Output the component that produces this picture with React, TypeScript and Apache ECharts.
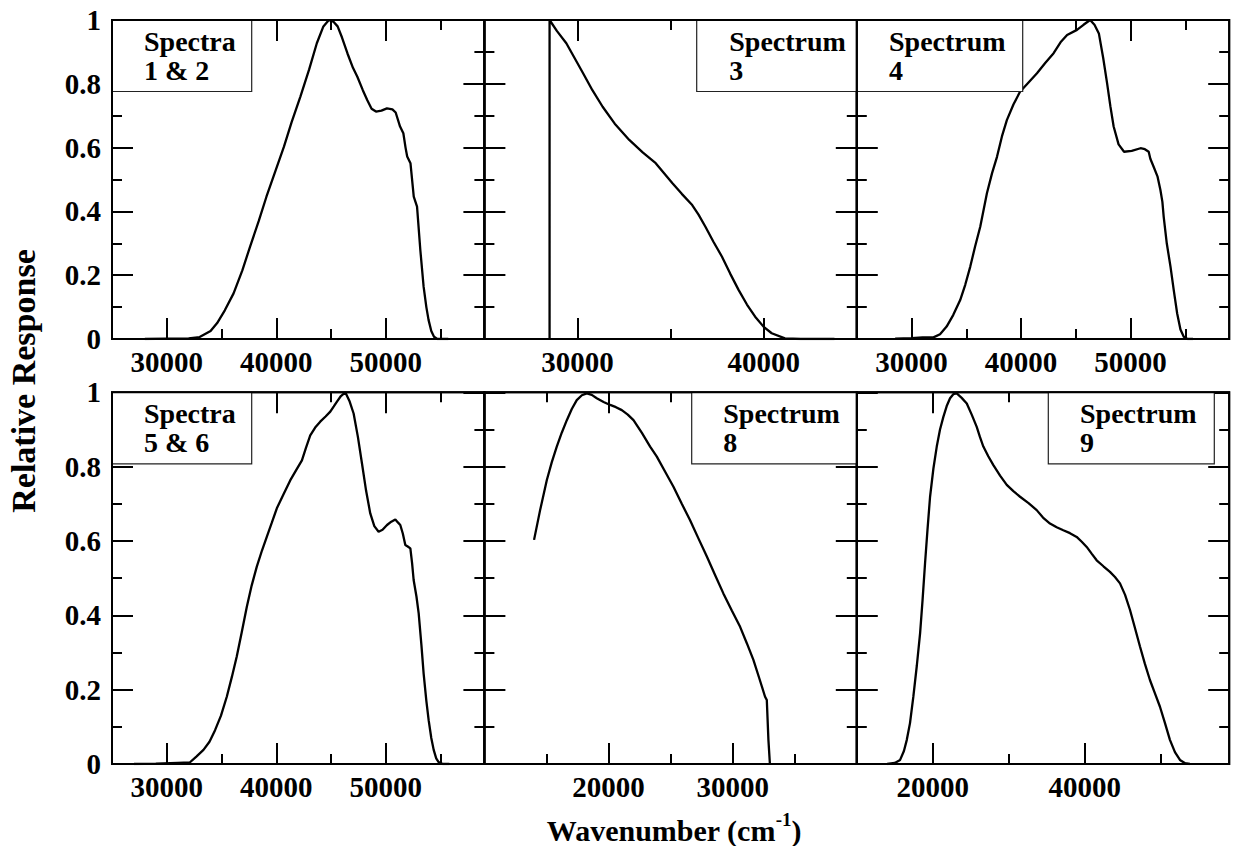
import React, { useEffect, useRef } from 'react';
import * as echarts from 'echarts';

// ---------------- data (wavenumber cm^-1, relative response) ----------------
const spectra12: number[][] = [
  [28000, 0], [30000, 0.001], [32000, 0.002], [33000, 0.006], [34000, 0.025], [34600, 0.05],
  [35300, 0.09], [36100, 0.143], [36900, 0.215], [37600, 0.289], [38400, 0.37], [39100, 0.446],
  [39900, 0.525], [40700, 0.603], [41400, 0.68], [42200, 0.76], [43000, 0.845], [43700, 0.927],
  [44300, 0.98], [44800, 1.0], [45200, 0.995], [45600, 0.98], [46000, 0.945], [46500, 0.895],
  [47000, 0.85], [47400, 0.822], [47900, 0.78], [48300, 0.749], [48700, 0.722], [49100, 0.713],
  [49600, 0.716], [50100, 0.723], [50600, 0.72], [50900, 0.71], [51300, 0.666], [51600, 0.645],
  [51800, 0.6], [51950, 0.572], [52250, 0.551], [52550, 0.446], [52850, 0.415], [53150, 0.279],
  [53450, 0.164], [53700, 0.1], [53900, 0.06], [54150, 0.025], [54400, 0.007], [54700, 0], [55700, 0]
];

const spectrum3: number[][] = [
  [28500, 0], [28500, 1], [28900, 0.965], [29400, 0.927], [29850, 0.88], [30300, 0.833],
  [30800, 0.78], [31350, 0.728], [32000, 0.675], [32780, 0.624], [33500, 0.585], [34200, 0.551],
  [35100, 0.488], [35600, 0.455], [36160, 0.42], [36500, 0.39], [36870, 0.352], [37300, 0.305],
  [37760, 0.258], [38200, 0.205], [38650, 0.154], [39100, 0.108], [39540, 0.07], [40000, 0.038],
  [40430, 0.018], [41140, 0.002], [42000, 0], [43800, 0]
];

const spectrum4: number[][] = [
  [28500, 0.001], [30000, 0.003], [31000, 0.005], [32000, 0.005], [32600, 0.015], [33200, 0.039],
  [33800, 0.075], [34440, 0.122], [34900, 0.17], [35360, 0.227], [35800, 0.29], [36270, 0.352],
  [36880, 0.457], [37350, 0.52], [37800, 0.571], [38250, 0.635], [38700, 0.686], [39300, 0.735],
  [39900, 0.775], [40700, 0.805], [41450, 0.833], [42200, 0.865], [42970, 0.896], [43600, 0.93],
  [44200, 0.953], [45100, 0.969], [45700, 0.985], [46300, 1.0], [46700, 0.985], [47100, 0.958],
  [47500, 0.88], [47850, 0.802], [48150, 0.73], [48450, 0.666], [48900, 0.61], [49400, 0.587],
  [50100, 0.59], [50900, 0.598], [51300, 0.595], [51650, 0.587], [51800, 0.565], [52100, 0.54],
  [52450, 0.51], [52720, 0.467], [52900, 0.43], [53020, 0.383], [53300, 0.3], [53640, 0.227],
  [53950, 0.15], [54250, 0.08], [54550, 0.03], [54850, 0.007], [55200, 0], [55700, 0]
];

const spectra56: number[][] = [
  [27000, 0], [29000, 0.001], [31000, 0.003], [32100, 0.004], [32700, 0.02], [33350, 0.038],
  [33900, 0.06], [34410, 0.091], [34950, 0.13], [35480, 0.181], [35950, 0.235], [36390, 0.289],
  [36850, 0.355], [37310, 0.423], [37750, 0.48], [38220, 0.531], [38700, 0.575], [39140, 0.612],
  [39600, 0.65], [40050, 0.688], [40650, 0.725], [41270, 0.763], [41800, 0.79], [42340, 0.817],
  [42700, 0.85], [43100, 0.884], [43550, 0.905], [44010, 0.921], [44500, 0.935], [44930, 0.948],
  [45250, 0.962], [45540, 0.975], [45900, 0.99], [46300, 1.0], [46700, 0.975], [47060, 0.943],
  [47450, 0.88], [47820, 0.809], [48200, 0.735], [48580, 0.674], [48950, 0.64], [49340, 0.625],
  [49700, 0.63], [50110, 0.643], [50500, 0.652], [50870, 0.658], [51100, 0.65], [51320, 0.643],
  [51550, 0.62], [51780, 0.589], [52000, 0.585], [52240, 0.58], [52400, 0.54], [52540, 0.495],
  [52800, 0.45], [53000, 0.405], [53250, 0.32], [53450, 0.244], [53700, 0.17], [53910, 0.118],
  [54150, 0.07], [54370, 0.038], [54600, 0.015], [54820, 0.005], [55200, 0], [55800, 0]
];

const spectrum8: number[][] = [
  [14000, 0.603], [14500, 0.685], [15030, 0.764], [15430, 0.812], [15830, 0.854], [16240, 0.892],
  [16640, 0.925], [17040, 0.955], [17440, 0.979], [17850, 0.992], [18250, 0.997], [18650, 0.993],
  [19050, 0.984], [19600, 0.974], [20130, 0.966], [20600, 0.96], [21070, 0.952], [21550, 0.94],
  [22010, 0.925], [22700, 0.89], [23350, 0.854], [23890, 0.827], [24550, 0.787], [25230, 0.746],
  [25900, 0.7], [26570, 0.656], [27240, 0.607], [27920, 0.558], [28590, 0.508], [29250, 0.459],
  [29930, 0.413], [30600, 0.369], [31140, 0.325], [31670, 0.28], [32150, 0.23], [32610, 0.181],
  [32750, 0.172], [32880, 0.065], [33000, 0]
];

const spectrum9: number[][] = [
  [14000, 0], [15000, 0.003], [15700, 0.011], [16200, 0.035], [16580, 0.065], [17000, 0.11],
  [17440, 0.181], [17900, 0.265], [18330, 0.352], [18650, 0.44], [18980, 0.54], [19300, 0.63],
  [19640, 0.719], [20080, 0.795], [20520, 0.854], [20950, 0.9], [21390, 0.934], [21830, 0.963],
  [22270, 0.984], [22700, 0.995], [23150, 0.997], [23800, 0.985], [24470, 0.97], [25120, 0.94],
  [25780, 0.907], [26200, 0.88], [26650, 0.854], [27300, 0.828], [27970, 0.804], [28850, 0.776],
  [29730, 0.751], [30600, 0.734], [31480, 0.719], [32600, 0.702], [33670, 0.683], [34500, 0.663],
  [35420, 0.647], [36300, 0.637], [37170, 0.629], [38050, 0.621], [38930, 0.611], [39600, 0.598],
  [40250, 0.584], [40900, 0.566], [41560, 0.548], [42450, 0.532], [43310, 0.517], [43970, 0.503],
  [44630, 0.486], [45300, 0.455], [45940, 0.415], [46600, 0.366], [47260, 0.316], [47900, 0.27],
  [48570, 0.226], [49230, 0.19], [49890, 0.154], [50550, 0.11], [51200, 0.065], [51860, 0.032],
  [52520, 0.011], [53200, 0.002], [53830, 0]
];

const panelLabelLine1 = ['Spectra', 'Spectrum', 'Spectrum', 'Spectra', 'Spectrum', 'Spectrum'];
const panelLabelLine2 = ['1 & 2', '3', '4', '5 & 6', '8', '9'];
const panelData = [spectra12, spectrum3, spectrum4, spectra56, spectrum8, spectrum9];
const xMin = [25000, 25000, 25000, 25000, 10000, 10000];
const xMax = [59000, 45000, 59000, 59000, 40000, 59000];
const xMajorTicks = [
  [30000, 40000, 50000], [30000, 40000], [30000, 40000, 50000],
  [30000, 40000, 50000], [20000, 30000], [20000, 40000]
];
const xMinorTicks = [
  [35000, 45000, 55000], [35000], [35000, 45000, 55000],
  [35000, 45000, 55000], [15000, 25000, 35000], [30000, 50000]
];
const yMin = 0;
const yMax = 1;
const yStep = 0.2;

const xTitle = 'Wavenumber (cm';
const xTitleSup = '-1';
const xTitleEnd = ')';
const yTitle = 'Relative Response';

// ---------------- layout ----------------
const FONT = 'Liberation Serif';
const colLeft = [112, 484.4, 856.8];
const colWidth = 372.4;
const rowTop = [20, 392.3];
const rowHeight = [319, 371.7];
const boxX = [[112, 251.7], [696.7, 856.8], [856.8, 1022.7], [112, 251.7], [691.7, 856.8], [1048.3, 1214.3]];
const textX = [144, 729.3, 889, 144, 723.3, 1080];
const boxH = 71.5;

export default function App() {
  const ref = useRef<HTMLDivElement>(null);

  useEffect(() => {
    if (!ref.current) return;
    const chart = echarts.init(ref.current, null, { renderer: 'svg' });

    const tickLine = { color: '#000', width: 2 };
    const labelStyle = { color: '#000', fontFamily: FONT, fontWeight: 'bold' as const, fontSize: 29 };
    const plain = (v: number) => String(v);

    const grids: any[] = [];
    const xAxes: any[] = [];
    const yAxes: any[] = [];
    const series: any[] = [];
    const graphics: any[] = [];

    panelData.forEach((data, i) => {
      const col = i % 3;
      const row = Math.floor(i / 3);
      grids.push({
        left: colLeft[col],
        top: rowTop[row],
        width: colWidth,
        height: rowHeight[row],
        show: true,
        borderColor: '#000',
        borderWidth: 2,
        backgroundColor: 'transparent',
        containLabel: false,
        outerBoundsMode: 'none'
      });

      const xb = {
        type: 'value',
        gridIndex: i,
        min: xMin[i],
        max: xMax[i],
        axisLine: { show: false },
        splitLine: { show: false }
      };
      xAxes.push({
        ...xb,
        position: 'bottom',
        axisTick: { show: true, inside: true, length: 21, customValues: xMajorTicks[i], lineStyle: tickLine },
        axisLabel: { show: true, customValues: xMajorTicks[i], margin: 8, formatter: plain, ...labelStyle }
      });
      xAxes.push({
        ...xb,
        position: 'bottom',
        axisTick: { show: true, inside: true, length: 10, customValues: xMinorTicks[i], lineStyle: tickLine },
        axisLabel: { show: false, customValues: xMinorTicks[i] }
      });
      xAxes.push({
        ...xb,
        position: 'top',
        axisTick: { show: true, inside: true, length: 21, customValues: xMajorTicks[i], lineStyle: tickLine },
        axisLabel: { show: false, customValues: xMajorTicks[i] }
      });
      xAxes.push({
        ...xb,
        position: 'top',
        axisTick: { show: true, inside: true, length: 10, customValues: xMinorTicks[i], lineStyle: tickLine },
        axisLabel: { show: false, customValues: xMinorTicks[i] }
      });

      const yb = {
        type: 'value',
        gridIndex: i,
        min: yMin,
        max: yMax,
        interval: yStep,
        axisLine: { show: false },
        splitLine: { show: false },
        minorSplitLine: { show: false },
        axisTick: { show: true, inside: true, length: 21, lineStyle: tickLine },
        minorTick: { show: true, splitNumber: 2, length: 10, lineStyle: tickLine }
      };
      yAxes.push({
        ...yb,
        position: 'left',
        axisLabel: { show: col === 0, margin: 11, formatter: plain, ...labelStyle }
      });
      yAxes.push({ ...yb, position: 'right', axisLabel: { show: false } });

      series.push({
        type: 'line',
        xAxisIndex: i * 4,
        yAxisIndex: i * 2,
        data,
        showSymbol: false,
        symbol: 'none',
        clip: true,
        lineStyle: { color: '#000', width: 2.3 },
        z: 3
      });

      const top = rowTop[row];
      graphics.push({
        type: 'rect',
        z: 100,
        shape: { x: boxX[i][0], y: top, width: boxX[i][1] - boxX[i][0], height: boxH },
        style: { fill: '#fff', stroke: '#222', lineWidth: 1.2 }
      });
      graphics.push({
        type: 'text',
        z: 101,
        x: textX[i],
        y: top + 21.3,
        style: {
          text: panelLabelLine1[i],
          fill: '#000',
          font: `bold 28px ${FONT}`,
          align: 'left',
          verticalAlign: 'middle'
        }
      });
      graphics.push({
        type: 'text',
        z: 101,
        x: textX[i],
        y: top + 50.1,
        style: {
          text: panelLabelLine2[i],
          fill: '#000',
          font: `bold 28px ${FONT}`,
          align: 'left',
          verticalAlign: 'middle'
        }
      });
    });

    // frames above legend boxes
    panelData.forEach((_, i) => {
      const col = i % 3;
      const row = Math.floor(i / 3);
      graphics.push({
        type: 'rect',
        z: 102,
        shape: { x: colLeft[col], y: rowTop[row], width: colWidth, height: rowHeight[row] },
        style: { fill: 'none', stroke: '#000', lineWidth: 2 }
      });
    });

    graphics.push({
      type: 'text',
      z: 101,
      x: 674,
      y: 830,
      style: {
        text: `{a|${xTitle}}{s|${xTitleSup}}{a|${xTitleEnd}}`,
        align: 'center',
        verticalAlign: 'middle',
        fill: '#000',
        rich: {
          a: { fontFamily: FONT, fontWeight: 'bold', fontSize: 30, lineHeight: 40, fill: '#000' },
          s: { fontFamily: FONT, fontWeight: 'bold', fontSize: 19, lineHeight: 19, verticalAlign: 'top', fill: '#000' }
        }
      }
    });
    graphics.push({
      type: 'text',
      z: 101,
      x: 23,
      y: 381,
      rotation: Math.PI / 2,
      style: {
        text: yTitle,
        align: 'center',
        verticalAlign: 'middle',
        fill: '#000',
        font: `bold 34px ${FONT}`
      }
    });

    chart.setOption({
      animation: false,
      backgroundColor: '#fff',
      grid: grids,
      xAxis: xAxes,
      yAxis: yAxes,
      series,
      graphic: { elements: graphics }
    });

    return () => chart.dispose();
  }, []);

  return (
    <div
      ref={ref}
      style={{ position: 'absolute', left: 0, top: 0, width: 1235, height: 846, background: '#fff' }}
    />
  );
}
